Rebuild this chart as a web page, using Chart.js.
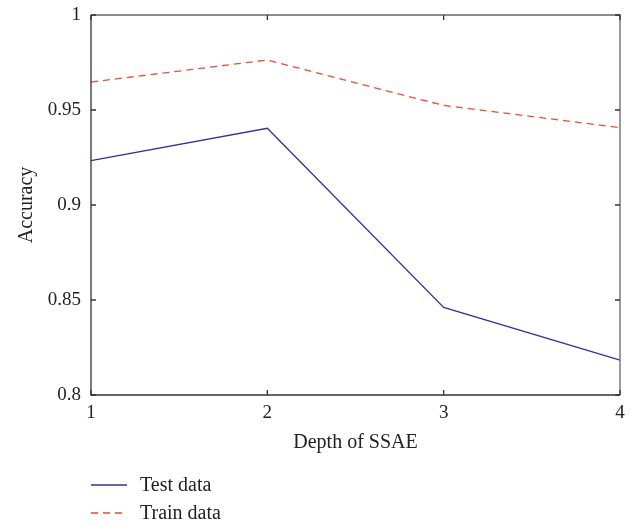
<!DOCTYPE html>
<html>
<head>
<meta charset="utf-8">
<script src="https://cdn.jsdelivr.net/npm/chart.js@4.4.1/dist/chart.umd.min.js"></script>
<style>
  html, body { margin: 0; padding: 0; background: #fff; }
  #wrap { width: 643px; height: 525px; }
</style>
</head>
<body>
<div id="wrap"><canvas id="accChart" width="643" height="525"></canvas></div>
<script>
// SSAE depth vs. accuracy
var depths = ["1", "2", "3", "4"];
var testAcc = [0.9233, 0.9404, 0.8461, 0.8183];
var trainAcc = [0.9647, 0.9763, 0.9524, 0.9407];
var yTicks = [0.8, 0.85, 0.9, 0.95, 1];

var FONT = "'Liberation Serif', 'DejaVu Serif', serif";
var BLUE = "#3a2d9c";
var RED = "#f04b2c";

// inward tick marks on all four sides plus the box frame
var frameTicks = {
  id: "frameTicks",
  afterDatasetsDraw: function (chart) {
    var c = chart.ctx, a = chart.chartArea;
    var xs = chart.scales.x, ys = chart.scales.y;
    c.save();
    c.lineWidth = 1.3;
    c.strokeStyle = "#333";
    c.beginPath();
    c.moveTo(a.left, a.top); c.lineTo(a.left, a.bottom); c.lineTo(a.right, a.bottom);
    c.stroke();
    c.strokeStyle = "#666";
    c.beginPath();
    c.moveTo(a.left, a.top); c.lineTo(a.right, a.top); c.lineTo(a.right, a.bottom);
    c.stroke();
    c.strokeStyle = "#333";
    c.beginPath();
    depths.forEach(function (d, i) {
      var px = xs.getPixelForValue(i);
      c.moveTo(px, a.bottom); c.lineTo(px, a.bottom - 5);
      c.moveTo(px, a.top); c.lineTo(px, a.top + 5);
    });
    yTicks.forEach(function (v) {
      var py = ys.getPixelForValue(v);
      c.moveTo(a.left, py); c.lineTo(a.left + 5, py);
      c.moveTo(a.right, py); c.lineTo(a.right - 5, py);
    });
    c.stroke();
    c.restore();
  }
};

// stacked legend under the x axis title
var stackedLegend = {
  id: "stackedLegend",
  afterDraw: function (chart) {
    var c = chart.ctx, a = chart.chartArea;
    c.save();
    c.font = "20px " + FONT;
    c.textBaseline = "middle";
    c.fillStyle = "#222";
    chart.data.datasets.forEach(function (ds, i) {
      var y = 485 + i * 28;
      c.strokeStyle = ds.borderColor;
      c.lineWidth = 1.3;
      c.setLineDash(ds.borderDash || []);
      c.beginPath();
      c.moveTo(a.left, y);
      c.lineTo(a.left + 36, y);
      c.stroke();
      c.setLineDash([]);
      c.fillText(ds.label, a.left + 49, y + 1);
    });
    c.restore();
  }
};

new Chart(document.getElementById("accChart"), {
  type: "line",
  data: {
    labels: depths,
    datasets: [
      {
        label: "Test data",
        data: testAcc,
        borderColor: BLUE,
        borderWidth: 1.3,
        pointRadius: 0,
        tension: 0,
        fill: false
      },
      {
        label: "Train data",
        data: trainAcc,
        borderColor: RED,
        borderWidth: 1.3,
        borderDash: [7, 5],
        pointRadius: 0,
        tension: 0,
        fill: false
      }
    ]
  },
  options: {
    responsive: false,
    animation: false,
    layout: { padding: { left: 0, top: 15, right: 23, bottom: 70 } },
    plugins: {
      legend: { display: false },
      tooltip: { enabled: false }
    },
    scales: {
      x: {
        offset: false,
        grid: { display: false, drawTicks: false },
        border: { display: false },
        ticks: { color: "#222", font: { family: FONT, size: 19 }, padding: 7, maxRotation: 0 },
        title: {
          display: true,
          text: "Depth of SSAE",
          color: "#222",
          font: { family: FONT, size: 20 },
          padding: { top: 4, bottom: 0 }
        },
        afterFit: function (s) { s.height = 60; }
      },
      y: {
        min: 0.8,
        max: 1,
        grid: { display: false, drawTicks: false },
        border: { display: false },
        afterBuildTicks: function (s) {
          s.ticks = yTicks.map(function (v) { return { value: v }; });
        },
        ticks: {
          color: "#222",
          font: { family: FONT, size: 19 },
          padding: 10,
          callback: function (v) { return String(+v.toFixed(2)); }
        },
        title: {
          display: true,
          text: "Accuracy",
          color: "#222",
          font: { family: FONT, size: 20 },
          padding: { top: 15, bottom: 0 }
        },
        afterFit: function (s) {
          s.width = 91;
          s.paddingTop = 0;
          s.paddingBottom = 0;
        }
      }
    }
  },
  plugins: [frameTicks, stackedLegend]
});
</script>
</body>
</html>
